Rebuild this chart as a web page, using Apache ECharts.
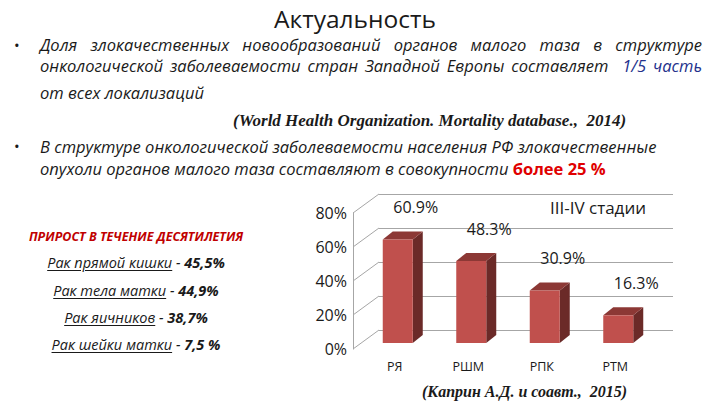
<!DOCTYPE html>
<html>
<head>
<meta charset="utf-8">
<script src="https://cdn.jsdelivr.net/npm/echarts@6/dist/echarts.min.js"></script>
<style>
  html, body { margin: 0; padding: 0; background: #fff; }
  .slide { position: relative; width: 720px; height: 405px; overflow: hidden; font-family: 'Open Sans', sans-serif; color: #1a1a1a; }
  #chart { position: absolute; left: 0; top: 0; width: 720px; height: 405px; }
  .t { position: absolute; white-space: nowrap; line-height: 20px; height: 20px; }
  .it { font-style: italic; font-size: 16.5px; }
  .just { text-align: justify; text-align-last: justify; }
  .src { font-family: 'Liberation Serif', serif; font-weight: bold; font-style: italic; font-size: 17px; }
  .blue { color: #23318c; }
  .red { color: #e00000; font-weight: bold; font-style: normal; }
  .growth { left: 0; width: 272px; text-align: center; font-style: italic; font-size: 14.5px; }
  .growth u { text-underline-offset: 2px; }
</style>
</head>
<body>
<div class="slide">
  <div id="chart"></div>

  <div class="t" style="left:0; width:710px; top:6px; text-align:center; font-size:24.5px; line-height:26px; height:26px;">Актуальность</div>

  <div class="t" style="left:14px; top:35px; font-size:15px;">•</div>
  <div class="t it just" style="left:40px; width:662px; top:35px;">Доля злокачественных новообразований органов малого таза в структуре</div>
  <div class="t it just" style="left:40px; width:662px; top:56px;">онкологической заболеваемости стран Западной Европы составляет &nbsp;<span class="blue">1/5 часть</span></div>
  <div class="t it" style="left:40px; top:83px;">от всех локализаций</div>

  <div class="t src" style="left:233px; top:111px;">(World Health Organization. Mortality database., &nbsp;2014)</div>

  <div class="t" style="left:14px; top:136px; font-size:15px;">•</div>
  <div class="t it" style="left:40px; top:137px;">В структуре онкологической заболеваемости населения РФ злокачественные</div>
  <div class="t it" style="left:40px; top:159px;">опухоли органов малого таза составляют в совокупности <span class="red">более 25 %</span></div>

  <div id="growth"></div>

  <div class="t src" style="left:422px; top:382px; font-size:16px;">(Каприн А.Д. и соавт., &nbsp;2015)</div>
</div>

<script>
// данные диаграммы
const categories = ['РЯ', 'РШМ', 'РПК', 'РТМ'];
const stageValues = [60.9, 48.3, 30.9, 16.3];
const yTicks = [0, 20, 40, 60, 80];
const stageTitle = 'III-IV стадии';

// прирост за десятилетие
const growthTitle = 'ПРИРОСТ В ТЕЧЕНИЕ ДЕСЯТИЛЕТИЯ';
const growthNames = ['Рак прямой кишки', 'Рак тела матки', 'Рак яичников', 'Рак шейки матки'];
const growthValues = ['45,5%', '44,9%', '38,7%', '7,5 %'];

// левый блок текста
const growthBox = document.getElementById('growth');
let html = '<div class="t" style="left:0; width:272px; top:227px; text-align:center; color:#c00000; font-weight:bold; font-style:italic; font-size:12.5px;">' + growthTitle + '</div>';
const rowTops = [253, 281, 308, 335];
growthNames.forEach((name, i) => {
  html += '<div class="t growth" style="top:' + rowTops[i] + 'px;"><u>' + name + '</u> - <b>' + growthValues[i] + '</b></div>';
});
growthBox.innerHTML = html;

// псевдо-3D смещения
const WALL_DX = 26, WALL_DY = -19;
const BAR_SHIFT_X = -18, BAR_SHIFT_Y = 13;
const BAR_W = 30, DEPTH_X = 10, DEPTH_Y = 8;

const chart = echarts.init(document.getElementById('chart'), null, { renderer: 'svg' });
chart.setOption({
  animation: false,
  textStyle: { fontFamily: 'Open Sans' },
  grid: [
    { left: 379, top: 194, width: 294, height: 136 },   // задняя стенка
    { left: 353, top: 213, width: 294, height: 136 },   // передняя ось
    { left: 358, top: 213, width: 294, height: 136 }    // подписи категорий
  ],
  xAxis: [
    { gridIndex: 0, type: 'category', data: categories, show: false },
    { gridIndex: 1, type: 'category', data: categories, show: false },
    {
      gridIndex: 2, type: 'category', data: categories,
      axisLine: { show: false }, axisTick: { show: false },
      axisLabel: { fontSize: 12.5, color: '#1a1a1a', margin: 11 }
    }
  ],
  yAxis: [
    {
      gridIndex: 0, type: 'value', min: 0, max: 80, interval: 20,
      axisLine: { show: false }, axisTick: { show: false }, axisLabel: { show: false },
      splitLine: { lineStyle: { color: '#a6a6a6', width: 1 } }
    },
    {
      gridIndex: 1, type: 'value', min: 0, max: 80, interval: 20,
      axisLine: { show: true, lineStyle: { color: '#a6a6a6' } },
      axisTick: { show: false }, splitLine: { show: false },
      axisLabel: { formatter: '{value}%', fontSize: 16, color: '#1a1a1a', margin: 6 }
    },
    { gridIndex: 2, type: 'value', min: 0, max: 80, show: false }
  ],
  graphic: [
    {
      type: 'text', left: 550, top: 199,
      style: { text: stageTitle, fontSize: 17, fill: '#1a1a1a', fontFamily: 'Open Sans' }
    }
  ],
  series: [
    {
      // линии боковой стенки
      type: 'custom',
      xAxisIndex: 1, yAxisIndex: 1,
      clip: false,
      silent: true,
      data: yTicks.map(v => [0, v]),
      renderItem: (params, api) => {
        const y = api.coord([0, api.value(1)])[1];
        const x = params.coordSys.x;
        return {
          type: 'line',
          shape: { x1: x, y1: y, x2: x + WALL_DX, y2: y + WALL_DY },
          style: { stroke: '#a6a6a6', lineWidth: 1 }
        };
      }
    },
    {
      type: 'custom',
      xAxisIndex: 0, yAxisIndex: 0,
      clip: false,
      data: stageValues.map((v, i) => [i, v]),
      renderItem: (params, api) => {
        const i = api.value(0), v = api.value(1);
        const top = api.coord([i, v]);
        const base = api.coord([i, 0]);
        const cx = top[0] + BAR_SHIFT_X;
        const yT = top[1] + BAR_SHIFT_Y;
        const yB = base[1] + BAR_SHIFT_Y;
        const x0 = cx - BAR_W / 2, x1 = cx + BAR_W / 2;
        return {
          type: 'group',
          children: [
            {
              type: 'polygon',
              shape: { points: [[x1, yT], [x1 + DEPTH_X, yT - DEPTH_Y], [x1 + DEPTH_X, yB - DEPTH_Y], [x1, yB]] },
              style: { fill: '#6b2a28' }
            },
            {
              type: 'polygon',
              shape: { points: [[x0, yT], [x0 + DEPTH_X, yT - DEPTH_Y], [x1 + DEPTH_X, yT - DEPTH_Y], [x1, yT]] },
              style: { fill: '#8c3835' }
            },
            {
              type: 'rect',
              shape: { x: x0, y: yT, width: BAR_W, height: yB - yT },
              style: { fill: '#c0504d' }
            },
            {
              type: 'text',
              x: top[0], y: top[1] - 19,
              style: {
                text: v.toFixed(1) + '%', fontSize: 16, fill: '#1a1a1a',
                fontFamily: 'Open Sans', align: 'center', verticalAlign: 'middle'
              }
            }
          ]
        };
      }
    }
  ]
});
</script>
</body>
</html>
